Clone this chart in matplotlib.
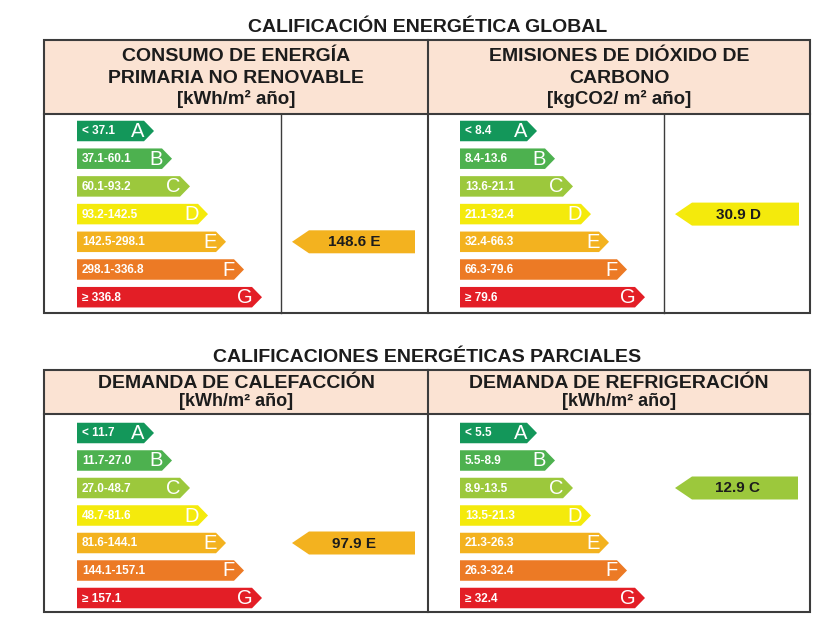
import matplotlib
matplotlib.use("Agg")
import matplotlib.pyplot as plt
from matplotlib.patches import Polygon, Rectangle
from matplotlib import font_manager

plt.rcParams['font.family'] = ['Liberation Sans', 'DejaVu Sans']
_names = {f.name for f in font_manager.fontManager.ttflist}
NARROW = ['Liberation Sans Narrow', 'DejaVu Sans'] if 'Liberation Sans Narrow' in _names else ['Liberation Sans', 'DejaVu Sans']

# ---------------- data ----------------
CLASSES = ["A", "B", "C", "D", "E", "F", "G"]
CLASS_COLORS = ["#13975a", "#4db14f", "#9cc83c", "#f4ea0c", "#f3b21f", "#ec7a25", "#e31e26"]

TITLE_GLOBAL = "CALIFICACIÓN ENERGÉTICA GLOBAL"
TITLE_PARCIAL = "CALIFICACIONES ENERGÉTICAS PARCIALES"

CONSUMO_HEADER = ["CONSUMO DE ENERGÍA", "PRIMARIA NO RENOVABLE", "[kWh/m² año]"]
CONSUMO_RANGES = ["< 37.1", "37.1-60.1", "60.1-93.2", "93.2-142.5", "142.5-298.1", "298.1-336.8", "≥ 336.8"]
CONSUMO_VALUE = 148.6
CONSUMO_CLASS = "E"

EMISIONES_HEADER = ["EMISIONES DE DIÓXIDO DE", "CARBONO", "[kgCO2/ m² año]"]
EMISIONES_RANGES = ["< 8.4", "8.4-13.6", "13.6-21.1", "21.1-32.4", "32.4-66.3", "66.3-79.6", "≥ 79.6"]
EMISIONES_VALUE = 30.9
EMISIONES_CLASS = "D"

CALEF_HEADER = ["DEMANDA DE CALEFACCIÓN", "[kWh/m² año]"]
CALEF_RANGES = ["< 11.7", "11.7-27.0", "27.0-48.7", "48.7-81.6", "81.6-144.1", "144.1-157.1", "≥ 157.1"]
CALEF_VALUE = 97.9
CALEF_CLASS = "E"

REFRIG_HEADER = ["DEMANDA DE REFRIGERACIÓN", "[kWh/m² año]"]
REFRIG_RANGES = ["< 5.5", "5.5-8.9", "8.9-13.5", "13.5-21.3", "21.3-26.3", "26.3-32.4", "≥ 32.4"]
REFRIG_VALUE = 12.9
REFRIG_CLASS = "C"

# ---------------- figure ----------------
fig = plt.figure(figsize=(8.4, 6.3), dpi=100)
ax = fig.add_axes([0, 0, 1, 1])
ax.set_xlim(0, 840)
ax.set_ylim(630, 0)
ax.axis("off")

EDGE = "#3c3c3c"
HEAD_FILL = "#fbe3d3"
INK = "#1c1c1c"


def draw_scale(x0, y0, step, ranges):
    h = 20.5
    for i, (cls, col, rng) in enumerate(zip(CLASSES, CLASS_COLORS, ranges)):
        yc = y0 + i * step
        body = 67 + 18 * i
        tip = 10
        pts = [(x0, yc - h / 2), (x0 + body, yc - h / 2), (x0 + body + tip, yc),
               (x0 + body, yc + h / 2), (x0, yc + h / 2)]
        ax.add_patch(Polygon(pts, closed=True, facecolor=col, edgecolor="none"))
        ax.text(x0 + 5, yc + 0.5, rng, color="white", fontsize=8.5, fontweight="bold",
                ha="left", va="center", family=NARROW)
        ax.text(x0 + body + 0.5, yc + 0.5, cls, color="white", fontsize=14.5,
                ha="right", va="center")


def draw_indicator(x0, x1, yc, value, cls):
    col = CLASS_COLORS[CLASSES.index(cls)]
    h = 23
    tip = 17
    pts = [(x0, yc), (x0 + tip, yc - h / 2), (x1, yc - h / 2), (x1, yc + h / 2), (x0 + tip, yc + h / 2)]
    ax.add_patch(Polygon(pts, closed=True, facecolor=col, edgecolor="none"))
    ax.text((x0 + x1) / 2 + 1, yc + 0.5, f"{value} {cls}", color=INK,
            fontsize=11, fontweight="bold", ha="center", va="center")


def header(xc, ys, lines, sizes):
    for y, t, s in zip(ys, lines, sizes):
        ax.text(xc, y, t, fontsize=s, fontweight="bold", ha="center", va="center", color=INK)


L, M, R = 44, 428, 810

# ---------- top block ----------
ax.text((L + R) / 2 + 1, 27.5, TITLE_GLOBAL, fontsize=14, fontweight="bold", ha="center", va="center", color=INK)
top, hb, bot = 40, 114, 313
ax.add_patch(Rectangle((L, top), R - L, hb - top, facecolor=HEAD_FILL, edgecolor="none"))
ax.add_patch(Rectangle((L, top), R - L, bot - top, facecolor="none", edgecolor=EDGE, lw=1.5))
ax.plot([L, R], [hb, hb], color=EDGE, lw=1.5)
ax.plot([M, M], [top, bot], color=EDGE, lw=1.5)
ax.plot([281, 281], [hb, bot], color=EDGE, lw=1.0)
ax.plot([664, 664], [hb, bot], color=EDGE, lw=1.0)

header((L + M) / 2, [56.5, 78.5, 98.5], CONSUMO_HEADER, [14, 14, 13.5])
header((M + R) / 2, [56.5, 78.5, 98.5], EMISIONES_HEADER, [14, 14, 13.5])

ty0, tstep = 131, 27.7
draw_scale(77, ty0, tstep, CONSUMO_RANGES)
draw_scale(460, ty0, tstep, EMISIONES_RANGES)
draw_indicator(292, 415, ty0 + CLASSES.index(CONSUMO_CLASS) * tstep, CONSUMO_VALUE, CONSUMO_CLASS)
draw_indicator(675, 799, ty0 + CLASSES.index(EMISIONES_CLASS) * tstep, EMISIONES_VALUE, EMISIONES_CLASS)

# ---------- bottom block ----------
ax.text((L + R) / 2, 357, TITLE_PARCIAL, fontsize=14, fontweight="bold", ha="center", va="center", color=INK)
top2, hb2, bot2 = 370, 414, 612
ax.add_patch(Rectangle((L, top2), R - L, hb2 - top2, facecolor=HEAD_FILL, edgecolor="none"))
ax.add_patch(Rectangle((L, top2), R - L, bot2 - top2, facecolor="none", edgecolor=EDGE, lw=1.5))
ax.plot([L, R], [hb2, hb2], color=EDGE, lw=1.5)
ax.plot([M, M], [top2, bot2], color=EDGE, lw=1.5)

header((L + M) / 2, [383.5, 401], CALEF_HEADER, [14, 13])
header((M + R) / 2, [383.5, 401], REFRIG_HEADER, [14, 13])

by0, bstep = 433, 27.5
draw_scale(77, by0, bstep, CALEF_RANGES)
draw_scale(460, by0, bstep, REFRIG_RANGES)
draw_indicator(292, 415, by0 + CLASSES.index(CALEF_CLASS) * bstep, CALEF_VALUE, CALEF_CLASS)
draw_indicator(675, 798, by0 + CLASSES.index(REFRIG_CLASS) * bstep, REFRIG_VALUE, REFRIG_CLASS)

fig.savefig("out.png", dpi=100, facecolor="white")
